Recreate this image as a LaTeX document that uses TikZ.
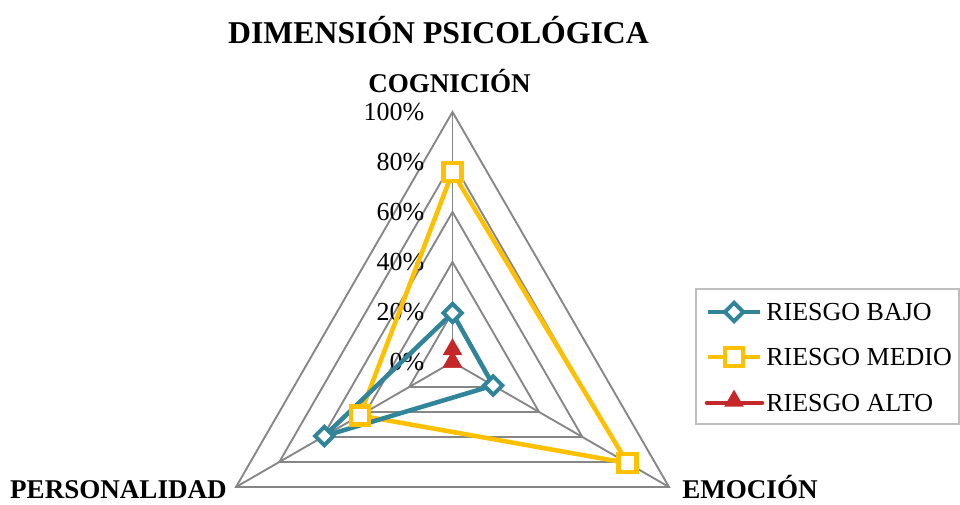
\documentclass[tikz,border=0pt]{standalone}
\usepackage{fontspec}
\setmainfont{Liberation Serif}
\usetikzlibrary{shapes.geometric}

\definecolor{bajo}{RGB}{49,133,155}
\definecolor{medio}{RGB}{255,192,0}
\definecolor{alto}{RGB}{196,40,40}
\definecolor{rejilla}{RGB}{134,134,134}
\definecolor{marco}{RGB}{191,191,191}

\tikzset{
	grid/.style={draw=rejilla, line width=1.4pt},
	serie/.style={line width=3.4pt, line join=round},
	tick/.style={font=\fontsize{19.5}{22}\selectfont, inner sep=0pt},
	eje/.style={font=\fontsize{20.3}{24}\selectfont\bfseries, inner sep=0pt},
	leyenda/.style={font=\fontsize{19.5}{22}\selectfont, inner sep=0pt, anchor=west},
	mbajo/.style={diamond, draw=bajo, fill=white, line width=3pt, minimum size=15pt, inner sep=0pt},
	mmedio/.style={rectangle, draw=medio, fill=white, line width=3.2pt, minimum size=13.5pt, inner sep=0pt},
	malto/.style={regular polygon, regular polygon sides=3, fill=alto, minimum size=17pt, inner sep=0pt}
}

\begin{document}
\begin{tikzpicture}[x=0.75pt,y=0.75pt]
	\useasboundingbox (0,0) rectangle (960,504);

	% titulo
	\node (titulo) at (438.5,474) [font=\fontsize{23.8}{28}\selectfont\bfseries, inner sep=0pt] {DIMENSIÓN PSICOLÓGICA};

	\begin{scope}[shift={(452.5,142)}]
		% rejilla
		\foreach \p in {1,...,5}
			\draw[grid] (90:\p*50) -- (210:\p*50) -- (330:\p*50) -- cycle;
		\foreach \a in {90,210,330}
			\draw[grid] (0,0) -- (\a:250);

		\foreach \p/\t in {0/0,1/20,2/40,3/60,4/80,5/100}
			\node (t\t) at (-28,\p*50) [tick, anchor=east] {\t\%};

		% valores
		\coordinate (b1) at (90:49);
		\coordinate (b2) at (330:47);
		\coordinate (b3) at (210:148);
		\coordinate (m1) at (90:190);
		\coordinate (m2) at (330:202);
		\coordinate (m3) at (210:107);
		\coordinate (a1) at (90:12.5);
		\coordinate (a2) at (330:0);
		\coordinate (a3) at (210:0);

		\draw[serie, draw=medio] (m1) -- (m2) -- (m3) -- cycle;
		\draw[serie, draw=bajo] (b1) -- (b2) -- (b3) -- cycle;
		\draw[serie, draw=alto] (a1) -- (a2) -- (a3) -- cycle;

		\foreach \i in {1,2,3} {
			\node (nb\i) at (b\i) [mbajo] {};
			\node (nm\i) at (m\i) [mmedio] {};
			\node (na\i) at (a\i) [malto] {};
		}
	\end{scope}

	% ejes
	\node (cognicion)		at (449.5,423) [eje] {COGNICIÓN};
	\node (personalidad)	at (227,5.5) [eje, anchor=base east] {PERSONALIDAD};
	\node (emocion)			at (682,5.5) [eje, anchor=base west] {EMOCIÓN};

	% leyenda
	\node (caja) at (827.5,147.5) [draw=marco, line width=1.1pt, minimum width=197pt, minimum height=101pt] {};

	\coordinate (lb0) at (708,192);
	\coordinate (lb1) at (760,192);
	\coordinate (lm0) at (708,147);
	\coordinate (lm1) at (760,147);
	\coordinate (la0) at (707,101);
	\coordinate (la1) at (762,101);

	\draw[serie, draw=bajo] (lb0) -- (lb1);
	\draw[serie, draw=medio] (lm0) -- (lm1);
	\draw[serie, draw=alto, line cap=round] (la0) -- (la1);
	\node (lbm) at (734,192) [mbajo] {};
	\node (lmm) at (734,147) [mmedio] {};
	\node (lam) at (734,103) [malto] {};

	\node (lbt) at (766,192) [leyenda] {RIESGO BAJO};
	\node (lmt) at (766,147) [leyenda] {RIESGO MEDIO};
	\node (lat) at (766,101) [leyenda] {RIESGO ALTO};
\end{tikzpicture}
\end{document}
